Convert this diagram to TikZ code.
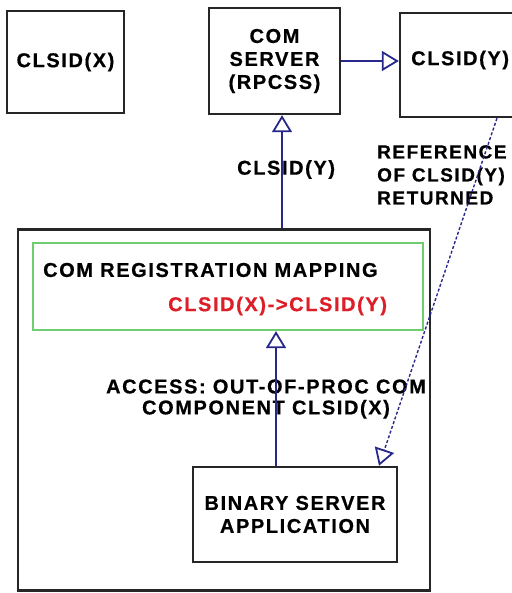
\documentclass[tikz,border=0pt]{standalone}
\usepackage{fontspec}
\setmainfont{Liberation Sans}[BoldFont={Liberation Sans Bold}]
\newfontfamily\boxfont{Liberation Sans Bold}[LetterSpace=8, FakeBold=0.6]
\usepackage{tikz}
\usetikzlibrary{arrows.meta,positioning,calc}

\definecolor{linkblue}{RGB}{40,40,140}
\definecolor{mapgreen}{RGB}{110,205,110}
\definecolor{mapred}{RGB}{220,30,40}

\tikzset{
  box/.style={rectangle, draw=black!85, line width=2.4pt, inner sep=0pt},
  lbl/.style={font=\boxfont\fontsize{20}{22}\selectfont, inner sep=0pt, align=center},
  link/.style={draw=linkblue, line width=2.2pt, -{Triangle[open, length=17pt, width=20pt, line width=1.8pt]}},
  backlink/.style={draw=linkblue, line width=1.4pt, densely dashed, -{Triangle[open, length=17pt, width=20pt, line width=1.8pt]}}
}

\begin{document}
\begin{tikzpicture}[x=1pt, y=-1pt]
    \useasboundingbox (0,0) rectangle (511,593);

    % top row
    \node (clsidx) [box, minimum width=117pt, minimum height=102pt] at (65.5,62) {};
    \node [lbl] at (clsidx) {CLSID(X)};
    \node (comserver) [box, minimum width=131pt, minimum height=106pt] at (274.5,61) {};
    \node [lbl, font=\boxfont\fontsize{20}{23}\selectfont] at (comserver) {COM\\SERVER\\(RPCSS)};
    \node (clsidy) [box, minimum width=116pt, minimum height=104pt] at (458,65) {};
    \node [lbl, anchor=west] at (411,60) {CLSID(Y)};

    % lower part
    \node (outer) [box, minimum width=412pt, minimum height=361pt] at (224,410) {};
    \node (mapping) [rectangle, draw=mapgreen, line width=2.2pt, minimum width=390pt, minimum height=87pt] at (228,286.5) {};
    \node (maptitle) [lbl, anchor=west] at (43,270) {COM REGISTRATION MAPPING};
    \node (maprule) [lbl, anchor=west, text=mapred] at (168,306) {CLSID(X)->CLSID(Y)};
    \node (binary) [box, minimum width=204pt, minimum height=95pt] at (295,514.5) {};
    \node [lbl, font=\boxfont\fontsize{20}{23}\selectfont] at (binary) {BINARY SERVER\\APPLICATION};

    % labels
    \node (returned) [lbl, anchor=north west, align=left, font=\boxfont\fontsize{19}{23}\selectfont] at (377,145) {REFERENCE\\OF CLSID(Y)\\RETURNED};
    \node (access) [lbl, font=\boxfont\fontsize{20}{21}\selectfont] at (266,399) {ACCESS: OUT-OF-PROC COM\\COMPONENT CLSID(X)};
    \node (askedy) [lbl, anchor=west] at (237,169.5) {CLSID(Y)};

    % connectors
    \draw[link] (comserver.east) -- (comserver.east -| clsidy.west);
    \draw[link] ([xshift=7.5]outer.north -| comserver.south) -- ([xshift=7.5]comserver.south);
    \draw[link] ([xshift=-19]binary.north) -- ([xshift=-19]binary.north |- mapping.south);
    \draw[backlink] ([xshift=39]clsidy.south) -- ([xshift=84]binary.north);
\end{tikzpicture}
\end{document}
